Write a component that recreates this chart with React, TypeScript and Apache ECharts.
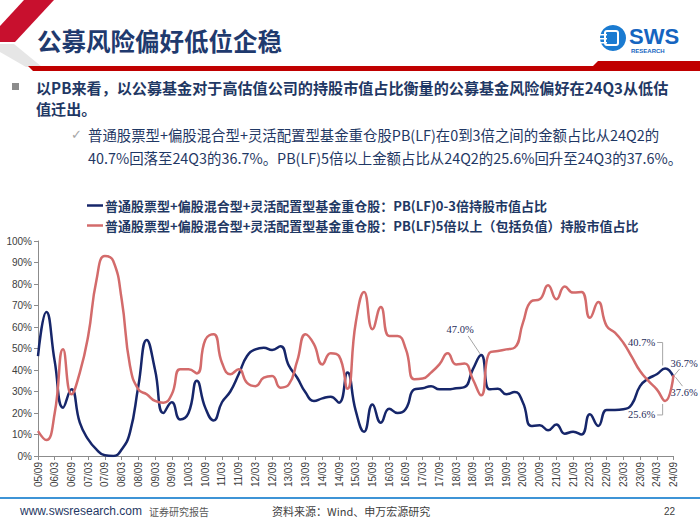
import React, { useEffect, useRef } from "react";
import * as echarts from "echarts";

const categories = [
  "05/09", "05/12",
  "06/03", "06/06", "06/09", "06/12",
  "07/03", "07/06", "07/09", "07/12",
  "08/03", "08/06", "08/09", "08/12",
  "09/03", "09/06", "09/09", "09/12",
  "10/03", "10/06", "10/09", "10/12",
  "11/03", "11/06", "11/09", "11/12",
  "12/03", "12/06", "12/09", "12/12",
  "13/03", "13/06", "13/09", "13/12",
  "14/03", "14/06", "14/09", "14/12",
  "15/03", "15/06", "15/09", "15/12",
  "16/03", "16/06", "16/09", "16/12",
  "17/03", "17/06", "17/09", "17/12",
  "18/03", "18/06", "18/09", "18/12",
  "19/03", "19/06", "19/09", "19/12",
  "20/03", "20/06", "20/09", "20/12",
  "21/03", "21/06", "21/09", "21/12",
  "22/03", "22/06", "22/09", "22/12",
  "23/03", "23/06", "23/09", "23/12",
  "24/03", "24/06", "24/09",
];

// PB(LF) 0-3x share (%)
const lowPB = [
  46.5, 67, 44, 22.5, 31, 15.5, 7.7, 3, 0.3, 0,
  3, 11, 32.5, 54, 40, 20, 25, 17, 20, 35,
  22.5, 16.5, 25, 30, 38, 46.5, 49.6, 50.4, 49.3, 51,
  42, 36.4, 29.5, 25.6, 26.8, 27.6, 24.8, 38.8, 21, 11.3,
  24, 15.5, 22, 20, 22, 31, 31.5, 32.5, 31, 31,
  31.5, 32, 40.3, 47.0, 31, 31.3, 28.7, 29.8, 24.8, 14,
  14.3, 12, 14.7, 10.4, 11.3, 10, 19.4, 14, 21.4, 21.4,
  21.7, 24, 32.5, 36, 38, 40.7, 36.7,
];

// PB(LF) >5x (incl. negative) share (%)
const highPB = [
  11.6, 7.4, 20, 49.6, 28.7, 38.8, 55.8, 82, 93, 90.7,
  73, 42, 31, 28.7, 25.6, 24.8, 28.7, 40.3, 40.3, 38.4,
  54, 56.6, 43.4, 38, 40.3, 34, 32.5, 36.4, 37.2, 31.8,
  33.3, 44.2, 56.6, 52, 42.6, 47.8, 46.5, 31.3, 62, 76.3,
  59, 69.3, 55.8, 55.8, 49.6, 35.7, 36, 38.8, 42.6, 47.8,
  42.6, 43, 35.7, 28.2, 48, 48.8, 49.6, 50.4, 62, 72,
  72.9, 79.4, 72.9, 78.8, 76, 76.3, 64.3, 71.6, 60.5, 57.4,
  52.7, 46.2, 39.5, 34.9, 31, 25.6, 37.6,
];

const seriesNames = [
  "普通股票型+偏股混合型+灵活配置型基金重仓股：PB(LF)0-3倍持股市值占比",
  "普通股票型+偏股混合型+灵活配置型基金重仓股：PB(LF)5倍以上（包括负值）持股市值占比",
];

const title = "公募风险偏好低位企稳";
const bulletLines = [
  "以PB来看，以公募基金对于高估值公司的持股市值占比衡量的公募基金风险偏好在24Q3从低估",
  "值迁出。",
];
const subLines = [
  "普通股票型+偏股混合型+灵活配置型基金重仓股PB(LF)在0到3倍之间的金额占比从24Q2的",
  "40.7%回落至24Q3的36.7%。PB(LF)5倍以上金额占比从24Q2的25.6%回升至24Q3的37.6%。",
];

// annotated points: [series index, category index]
const annotations = [
  { s: 0, i: 53 },
  { s: 0, i: 75 },
  { s: 1, i: 75 },
  { s: 0, i: 76 },
  { s: 1, i: 76 },
];

const NAVY = "#16266a";
const RED = "#d36b6b";
const TEXT_NAVY = "#1f3864";
const CJK = "'Noto Sans CJK SC', 'Noto Sans', sans-serif";
const ARIAL = "'Liberation Sans', Arial, sans-serif";
const SERIF = "'Liberation Serif', 'Times New Roman', serif";

export default function App() {
  const ref = useRef<HTMLDivElement>(null);

  useEffect(() => {
    document.body.style.margin = "0";
    const chart = echarts.init(ref.current!, null, { renderer: "svg" });

    chart.setOption({
      animation: false,
      backgroundColor: "#ffffff",
      legend: {
        orient: "vertical",
        left: 87,
        top: 199,
        padding: 0,
        itemGap: 7,
        itemWidth: 16,
        itemHeight: 2.5,
        icon: "rect",
        selectedMode: false,
        textStyle: {
          fontSize: 13,
          fontWeight: "bold",
          color: TEXT_NAVY,
          fontFamily: CJK,
          padding: [0, 0, 0, -3],
        },
        data: seriesNames,
      },
      grid: { left: 38, right: 26.5, top: 241, bottom: 69, containLabel: false },
      xAxis: {
        type: "category",
        boundaryGap: false,
        data: categories,
        axisLine: { lineStyle: { color: "#8c8c8c", width: 1 } },
        axisTick: { show: true, interval: 1, length: 4, lineStyle: { color: "#8c8c8c" } },
        axisLabel: {
          interval: 1,
          rotate: 90,
          fontSize: 10,
          margin: 6,
          color: "#404040",
          fontFamily: ARIAL,
        },
        splitLine: { show: false },
      },
      yAxis: {
        type: "value",
        min: 0,
        max: 100,
        interval: 10,
        axisLine: { show: true, lineStyle: { color: "#8c8c8c", width: 1 } },
        axisTick: { show: true, length: 4, lineStyle: { color: "#8c8c8c" } },
        axisLabel: {
          formatter: "{value}%",
          fontSize: 10,
          margin: 6,
          color: "#404040",
          fontFamily: ARIAL,
        },
        splitLine: { show: false },
      },
      series: [
        {
          name: seriesNames[0],
          type: "line",
          data: lowPB,
          smooth: true,
          showSymbol: false,
          symbol: "none",
          color: NAVY,
          lineStyle: { color: NAVY, width: 2.5 },
        },
        {
          name: seriesNames[1],
          type: "line",
          data: highPB,
          smooth: true,
          showSymbol: false,
          symbol: "none",
          color: RED,
          lineStyle: { color: RED, width: 2.5 },
        },
      ],
    });

    const seriesData = [lowPB, highPB];
    const px = (s: number, i: number) =>
      chart.convertToPixel({ gridIndex: 0 }, [i, seriesData[s][i]]) as number[];
    const fmt = (v: number) => v.toFixed(1) + "%";
    const labelStyle = (text: string, align: string) => ({
      text,
      fill: "#1f2d5a",
      fontSize: 10.5,
      fontFamily: SERIF,
      textAlign: align,
      textVerticalAlign: "middle",
    });
    const leader = "#a6a6a6";

    const annEls: any[] = [];
    annotations.forEach((a, k) => {
      const [x, y] = px(a.s, a.i);
      const v = seriesData[a.s][a.i];
      if (k === 0) {
        annEls.push({ type: "text", x: x - 21, y: y - 25, style: labelStyle(fmt(v), "center") });
        annEls.push({ type: "line", shape: { x1: x - 13, y1: y - 19, x2: x - 1, y2: y - 1 }, style: { stroke: leader, lineWidth: 1 } });
      } else if (k === 1) {
        annEls.push({ type: "text", x: x - 10, y: y - 26, style: labelStyle(fmt(v), "right") });
        annEls.push({ type: "polyline", shape: { points: [[x - 8, y - 26], [x - 2.5, y - 26], [x - 2.5, y - 3]] }, style: { stroke: leader, lineWidth: 1, fill: null } });
      } else if (k === 2) {
        annEls.push({ type: "text", x: x - 10, y: y + 14, style: labelStyle(fmt(v), "right") });
        annEls.push({ type: "polyline", shape: { points: [[x - 8, y + 14], [x - 2.5, y + 14], [x - 2.5, y + 3]] }, style: { stroke: leader, lineWidth: 1, fill: null } });
      } else if (k === 3) {
        annEls.push({ type: "text", x: x - 3, y: y - 14, style: labelStyle(fmt(v), "left") });
        annEls.push({ type: "line", shape: { x1: x + 1, y1: y - 2, x2: x + 6, y2: y - 8 }, style: { stroke: leader, lineWidth: 1 } });
      } else {
        annEls.push({ type: "text", x: x - 3, y: y + 17, style: labelStyle(fmt(v), "left") });
        annEls.push({ type: "line", shape: { x1: x + 2, y1: y + 2, x2: x + 9, y2: y + 11 }, style: { stroke: leader, lineWidth: 1 } });
      }
    });

    const header: any[] = [
      // left chevron decoration
      { type: "polygon", shape: { points: [[24, 0], [54, 0], [15, 42], [0, 42], [0, 26]] }, style: { fill: "#c8102e" } },
      { type: "polygon", shape: { points: [[0, 44], [14, 44], [42, 67], [26, 67], [0, 52]] }, style: { fill: "#e6e6e6" } },
      // red header rule
      { type: "polygon", shape: { points: [[28, 66], [700, 66], [700, 71], [33, 71]] }, style: { fill: "#c00000" } },
      { type: "polygon", shape: { points: [[588, 71], [598, 61], [700, 61], [700, 71]] }, style: { fill: "#c00000" } },
      // title
      {
        type: "text", x: 37, y: 40,
        style: { text: title, fill: "#1f3a6e", fontSize: 24.5, fontWeight: "bold", fontFamily: CJK, textVerticalAlign: "middle" },
      },
      // logo
      { type: "circle", shape: { cx: 613, cy: 38, r: 13 }, style: { fill: "#1a7bd1" } },
      { type: "rect", shape: { x: 605, y: 31, width: 13, height: 14, r: 2 }, style: { fill: "none", stroke: "#ffffff", lineWidth: 2 } },
      { type: "rect", shape: { x: 600, y: 34, width: 7, height: 1.5 }, style: { fill: "#ffffff" } },
      { type: "rect", shape: { x: 600, y: 38, width: 7, height: 1.5 }, style: { fill: "#ffffff" } },
      { type: "rect", shape: { x: 600, y: 42, width: 7, height: 1.5 }, style: { fill: "#ffffff" } },
      {
        type: "text", x: 629, y: 36,
        style: { text: "SWS", fill: "#1565c0", fontSize: 22, fontWeight: "bold", fontFamily: ARIAL, textVerticalAlign: "middle" },
      },
      {
        type: "text", x: 631, y: 51,
        style: { text: "RESEARCH", fill: "#1565c0", fontSize: 6, fontWeight: "bold", fontFamily: ARIAL, textVerticalAlign: "middle" },
      },
      // bullet
      { type: "rect", shape: { x: 12, y: 83, width: 7, height: 7 }, style: { fill: "#8c8c8c" } },
      {
        type: "text", x: 36, y: 87,
        style: { text: bulletLines[0], fill: TEXT_NAVY, fontSize: 15.1, fontWeight: "bold", fontFamily: CJK, textVerticalAlign: "middle" },
      },
      {
        type: "text", x: 36, y: 108,
        style: { text: bulletLines[1], fill: TEXT_NAVY, fontSize: 15.1, fontWeight: "bold", fontFamily: CJK, textVerticalAlign: "middle" },
      },
      {
        type: "text", x: 71, y: 134,
        style: { text: "✓", fill: "#a6a6a6", fontSize: 13, fontFamily: "'DejaVu Sans', sans-serif", textVerticalAlign: "middle" },
      },
      {
        type: "text", x: 88, y: 134,
        style: { text: subLines[0], fill: TEXT_NAVY, fontSize: 14.4, fontFamily: CJK, textVerticalAlign: "middle" },
      },
      {
        type: "text", x: 88, y: 157,
        style: { text: subLines[1], fill: TEXT_NAVY, fontSize: 14.4, fontFamily: CJK, textVerticalAlign: "middle" },
      },
      // footer
      { type: "rect", shape: { x: 0, y: 497, width: 700, height: 2 }, style: { fill: "#3d94d6" } },
      {
        type: "text", x: 20, y: 511,
        style: { text: "www.swsresearch.com", fill: "#1f3864", fontSize: 12, fontFamily: ARIAL, textVerticalAlign: "middle" },
      },
      {
        type: "text", x: 149, y: 511,
        style: { text: "证券研究报告", fill: "#595959", fontSize: 10, fontFamily: CJK, textVerticalAlign: "middle" },
      },
      {
        type: "text", x: 272, y: 511,
        style: { text: "资料来源：Wind、申万宏源研究", fill: "#404040", fontSize: 11, fontFamily: CJK, textVerticalAlign: "middle" },
      },
      {
        type: "text", x: 675, y: 511,
        style: { text: "22", fill: "#404040", fontSize: 10, fontFamily: ARIAL, textAlign: "right", textVerticalAlign: "middle" },
      },
    ];

    chart.setOption({ graphic: { elements: [...header, ...annEls] } });

    return () => {
      chart.dispose();
    };
  }, []);

  return (
    <div
      ref={ref}
      style={{ position: "fixed", left: 0, top: 0, width: 700, height: 525 }}
    />
  );
}
